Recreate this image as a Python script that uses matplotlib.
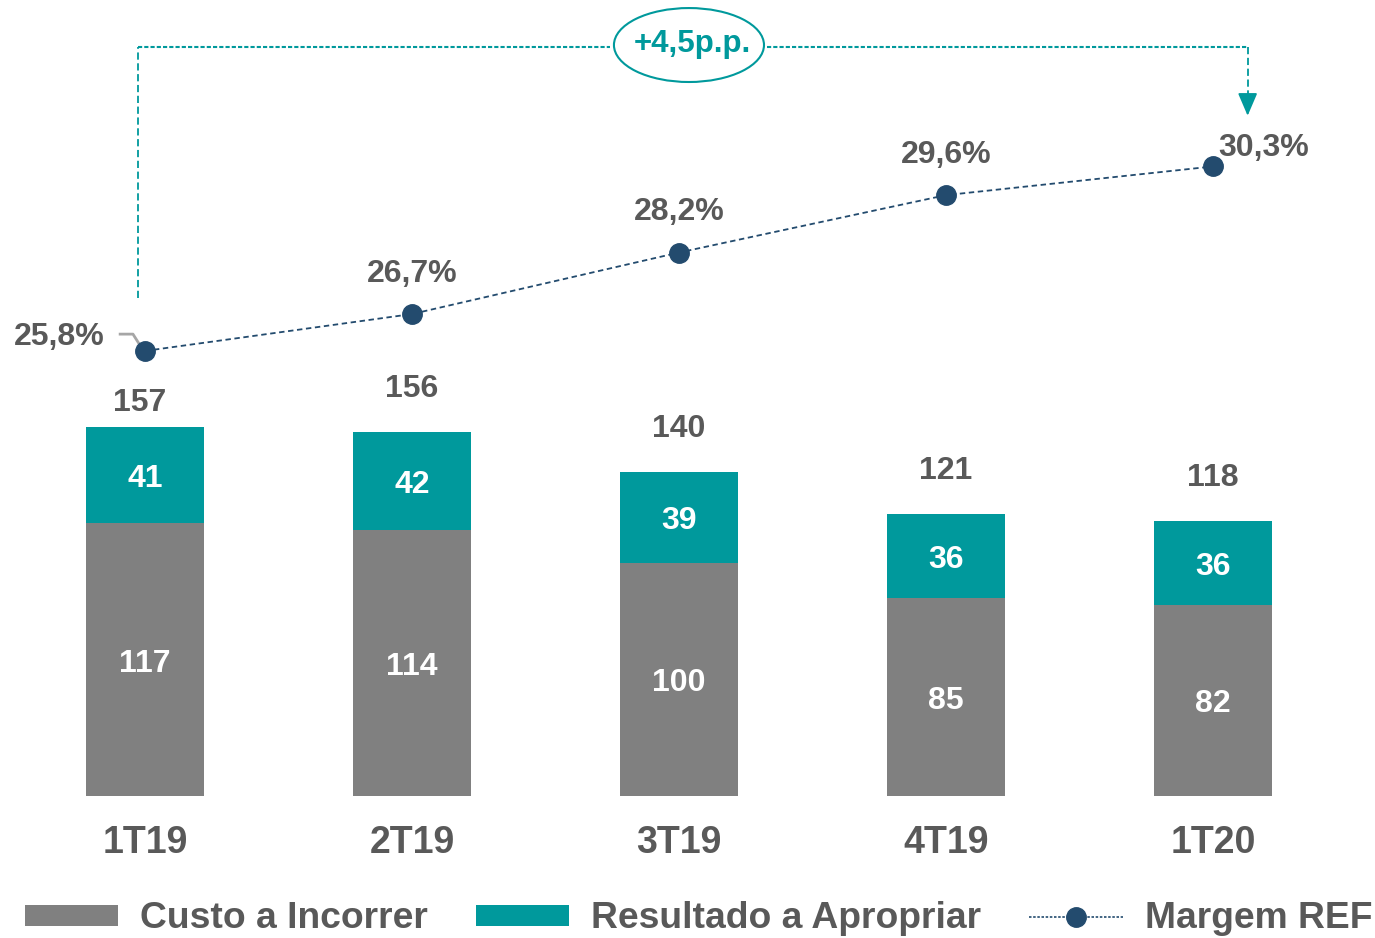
import matplotlib.pyplot as plt
from matplotlib.patches import Ellipse, Patch
from matplotlib.lines import Line2D

quarters = ["1T19", "2T19", "3T19", "4T19", "1T20"]
custo = [117, 114, 100, 85, 82]
resultado = [41, 42, 39, 36, 36]
totals = ["157", "156", "140", "121", "118"]
margem = [25.8, 26.7, 28.2, 29.6, 30.3]
margem_labels = ["25,8%", "26,7%", "28,2%", "29,6%", "30,3%"]
delta_label = "+4,5p.p."

GRAY = "#808080"
TEAL = "#00999C"
NAVY = "#234B6E"
TXT = "#595959"
FONT = "Liberation Sans"

def main():
    plt.rcParams['font.family'] = [FONT, 'DejaVu Sans']
    fig = plt.figure(figsize=(13.75, 9.38), dpi=100)
    ax = fig.add_axes([0, 0, 1, 1])
    ax.set_xlim(-0.543, 4.607)
    ax.set_ylim(-60.86, 341.2)
    ax.axis("off")

    x = list(range(len(quarters)))
    ax.bar(x, custo, width=0.445, color=GRAY, zorder=2)
    ax.bar(x, resultado, width=0.445, bottom=custo, color=TEAL, zorder=2)

    for i in x:
        ax.text(i, custo[i] / 2 - 1.7, str(custo[i]), ha="center", va="center",
                color="white", fontsize=23, fontweight="bold")
        ax.text(i, custo[i] + resultado[i] / 2 - 1.7, str(resultado[i]), ha="center",
                va="center", color="white", fontsize=23, fontweight="bold")
        top = custo[i] + resultado[i]
        off = 10.5 if i == 0 else 18.5
        ax.text(i - (0.02 if i == 0 else 0), top + off, totals[i], ha="center",
                va="center", color=TXT, fontsize=23, fontweight="bold")
        ax.text(i, -20.2, quarters[i], ha="center", va="center", color=TXT,
                fontsize=27, fontweight="bold")

    ax2 = ax.twinx()
    ax2.set_ylim(11.48, 34.36)
    ax2.axis("off")
    ax2.plot(x, margem, color=NAVY, linestyle=(0, (3, 2)), linewidth=1.3,
             marker="o", markersize=14, markerfacecolor=NAVY,
             markeredgecolor=NAVY, zorder=3)
    for i in x:
        if i == 0:
            ax2.text(i - 0.32, margem[i] + 0.35, margem_labels[i], ha="center",
                     va="center", color=TXT, fontsize=23, fontweight="bold")
            ax2.plot([-0.093, -0.045, -0.008], [margem[i] + 0.41, margem[i] + 0.41, margem[i] + 0.03],
                     color="#A6A6A6", linewidth=2, zorder=2)
        elif i == 4:
            ax2.text(i + 0.19, margem[i] + 0.45, margem_labels[i], ha="center",
                     va="center", color=TXT, fontsize=23, fontweight="bold")
        else:
            ax2.text(i, margem[i] + 0.98, margem_labels[i], ha="center",
                     va="center", color=TXT, fontsize=23, fontweight="bold")

    # bracket with the variation
    y_top = 321.0
    x_l, x_r = -0.026, 4.13
    ax.plot([x_l, x_l], [213.5, y_top], color=TEAL, linestyle=(0, (4, 2)), linewidth=1.3)
    ax.plot([x_l, 1.74], [y_top, y_top], color=TEAL, linestyle=(0, (2, 1)), linewidth=1.5)
    ax.plot([2.33, x_r], [y_top, y_top], color=TEAL, linestyle=(0, (2, 1)), linewidth=1.5)
    ax.plot([x_r, x_r], [y_top, 298.3], color=TEAL, linestyle=(0, (4, 2)), linewidth=1.3)
    ax.annotate("", xy=(x_r, 291.6), xytext=(x_r, 298.0),
                arrowprops=dict(arrowstyle="-|>,head_length=0.7,head_width=0.3",
                                color=TEAL, lw=1.3, mutation_scale=20,
                                shrinkA=0, shrinkB=0))
    ax.add_patch(Ellipse((2.0375, 321.9), 0.562, 31.7, facecolor="white",
                         edgecolor=TEAL, linewidth=1.5, zorder=4))
    ax.text(2.05, 322.3, delta_label, ha="center", va="center", color=TEAL,
            fontsize=22.5, fontweight="bold", zorder=5)

    handles = [Patch(facecolor=GRAY, edgecolor="none"),
               Patch(facecolor=TEAL, edgecolor="none"),
               Line2D([], [], color=NAVY, linestyle=(0, (1.5, 1)), linewidth=1.2,
                      marker="o", markersize=14, markerfacecolor=NAVY, markeredgecolor=NAVY)]
    labels = ["Custo a Incorrer", "Resultado a Apropriar", "Margem REF"]
    fig.legend(handles, labels, loc="center", bbox_to_anchor=(0.508, 0.0203), ncol=3,
               frameon=False, prop={"family": FONT, "weight": "bold", "size": 26.8},
               labelcolor=TXT, handlelength=2.5, handleheight=0.5,
               handletextpad=0.6, columnspacing=1.29, borderaxespad=0)

    plt.savefig("out.png", dpi=100)

if __name__ == "__main__":
    main()
